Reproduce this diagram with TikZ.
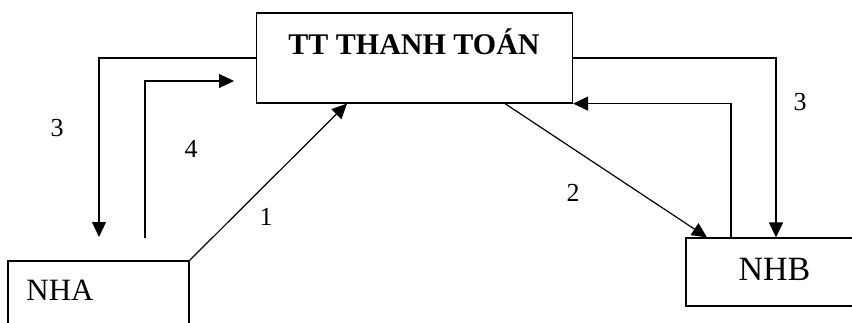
\documentclass[tikz,border=0pt]{standalone}
\usepackage{fontspec}
\setmainfont{Liberation Serif}
\usetikzlibrary{arrows.meta}
\begin{document}
\begin{tikzpicture}[x=1pt,y=-1pt,
  box/.style={draw, line width=1.2pt, inner sep=0pt},
  conn/.style={line width=1.2pt, -{Triangle[length=15pt,width=14pt]}},
  num/.style={font=\fontsize{26}{30}\selectfont, inner sep=0pt}]
\useasboundingbox (0,0) rectangle (852,322);
\clip (0,0) rectangle (852,322);
% boxes
\node[box, minimum width=316pt, minimum height=90pt] (tt) at (414.5,58) {};
\node[inner sep=0pt, font=\fontsize{30}{34}\selectfont\bfseries] (tttext) at (414,42) {TT THANH TOÁN};
\node[box, minimum width=181pt, minimum height=80pt] (nha) at (98.5,301) {};
\node[inner sep=0pt, font=\fontsize{31}{34}\selectfont] (nhatext) at (60,290) {NHA};
\node[box, minimum width=186pt, minimum height=68pt] (nhb) at (779,272) {};
\node[inner sep=0pt, font=\fontsize{34}{36}\selectfont] (nhbtext) at (774.5,269) {NHB};
% free ends
\coordinate (a3end) at (99,237);
\coordinate (a4start) at (145,238);
\coordinate (a4end) at (234,81);
% connectors
\draw[conn] (tt.west) -| (a3end);
\draw[conn] (a4start) |- (a4end);
\draw[conn] (nha.north east) -- ([xshift=-67.5pt]tt.south);
\draw[conn] ([xshift=90.5pt]tt.south) -- ([xshift=-72pt]nhb.north);
\draw[conn] (tt.east) -| ([xshift=-3pt]nhb.north);
\draw[conn] ([xshift=-48pt]nhb.north) |- (tt.south east);
% labels
\node[num] (l3a) at (57,128) {3};
\node[num] (l4) at (191,149) {4};
\node[num] (l1) at (266,217) {1};
\node[num] (l2) at (573,193) {2};
\node[num] (l3b) at (800,102) {3};
\end{tikzpicture}
\end{document}
